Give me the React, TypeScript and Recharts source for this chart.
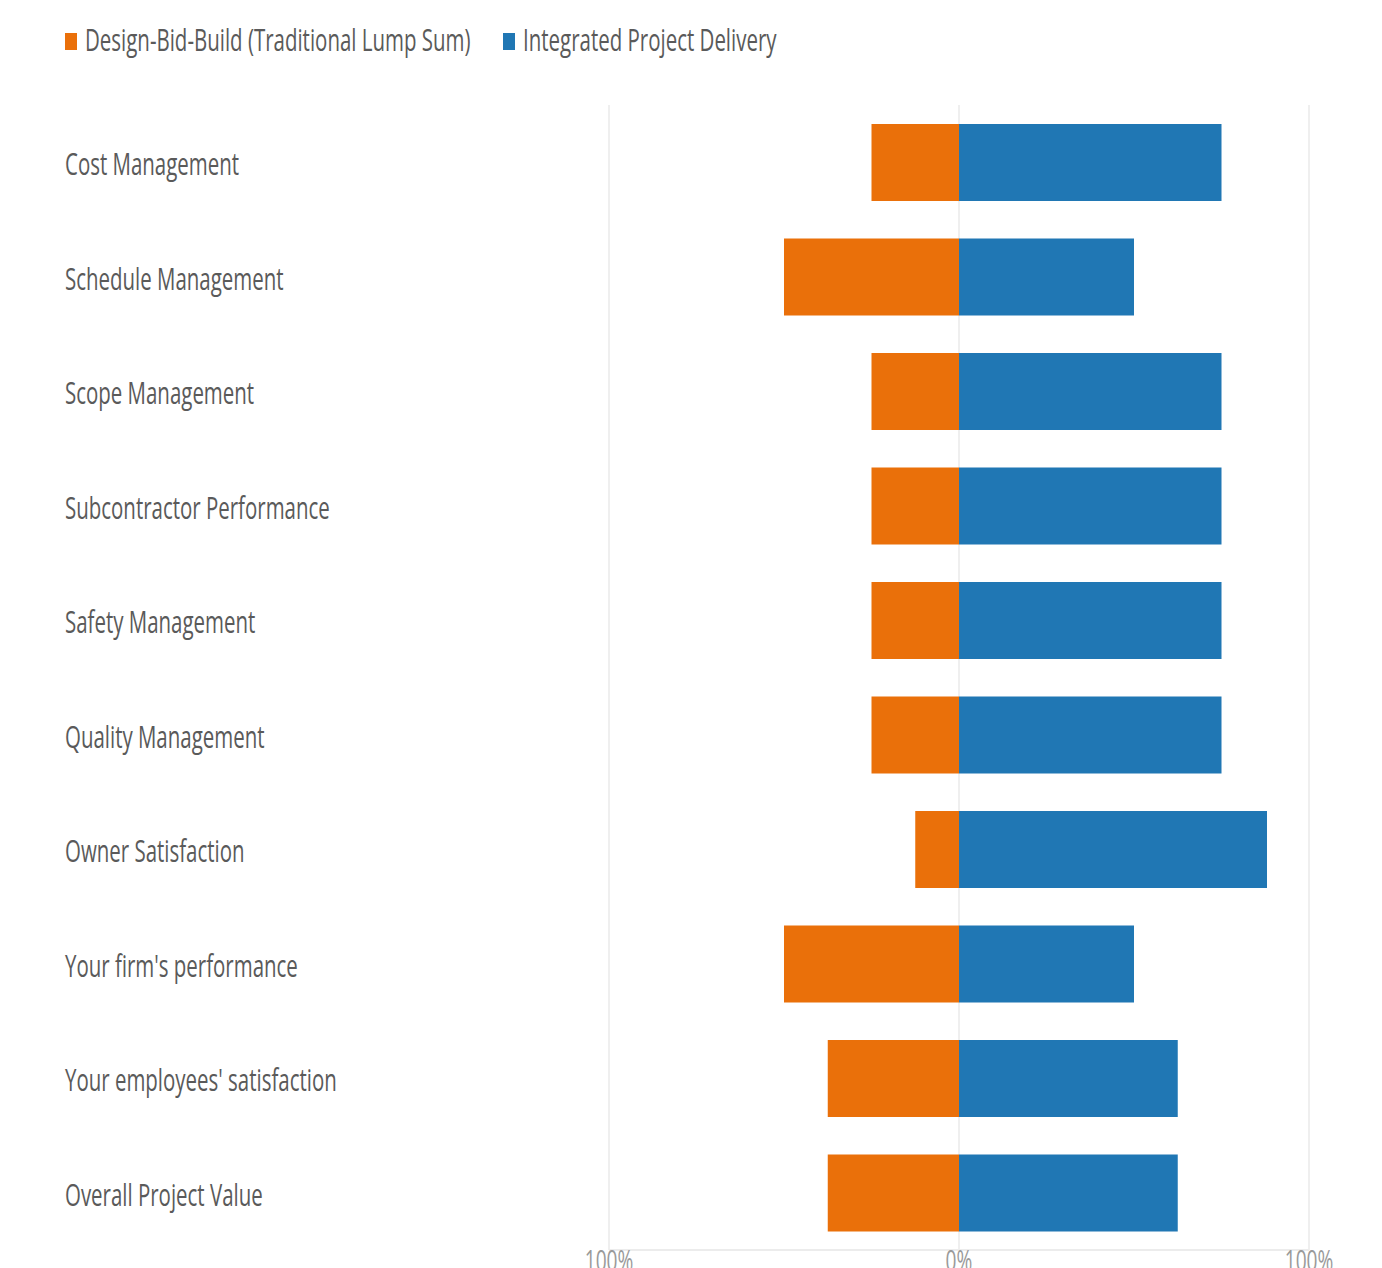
import React from 'react';
import { BarChart, Bar, XAxis, YAxis, CartesianGrid, Legend } from 'recharts';

const categories = [
  'Cost Management',
  'Schedule Management',
  'Scope Management',
  'Subcontractor Performance',
  'Safety Management',
  'Quality Management',
  'Owner Satisfaction',
  "Your firm's performance",
  "Your employees' satisfaction",
  'Overall Project Value',
];
const designBidBuild = [25, 50, 25, 25, 25, 25, 12.5, 50, 37.5, 37.5];
const integratedDelivery = [75, 50, 75, 75, 75, 75, 88, 50, 62.5, 62.5];
const xTicks = [-100, 0, 100];

const seriesNames = {
  dbb: 'Design-Bid-Build (Traditional Lump Sum)',
  ipd: 'Integrated Project Delivery',
};
const colors = { dbb: '#EA700A', ipd: '#2077B4' };

const data = categories.map((c, i) => ({
  category: c,
  dbb: -designBidBuild[i],
  ipd: integratedDelivery[i],
}));

const FONT = '"Open Sans", sans-serif';
const SX = 0.66;

const YTick = (props: any) => {
  const { y, payload } = props;
  return (
    <text
      transform={`translate(65, ${y + 13}) scale(${SX}, 1)`}
      fontFamily={FONT}
      fontSize={31}
      fill="#5a5a5a"
    >
      {payload.value}
    </text>
  );
};

const XTick = (props: any) => {
  const { x, y, payload } = props;
  return (
    <text
      transform={`translate(${x}, ${y + 21}) scale(${SX}, 1)`}
      textAnchor="middle"
      fontFamily={FONT}
      fontSize={29}
      fill="#9a9a9a"
    >
      {Math.abs(payload.value)}%
    </text>
  );
};

const LegendContent = (props: any) => {
  const { payload } = props;
  const lefts = [65, 503];
  return (
    <div style={{ position: 'relative', width: 900, height: 60 }}>
      {(payload || []).map((p: any, i: number) => (
        <div key={p.value} style={{ position: 'absolute', left: lefts[i], top: 0, height: 60 }}>
          <div
            style={{ position: 'absolute', left: 0, top: 33, width: 12, height: 17, background: p.color }}
          />
          <div
            style={{
              position: 'absolute',
              left: 20,
              top: 19,
              whiteSpace: 'nowrap',
              fontFamily: FONT,
              fontSize: 31,
              lineHeight: '40px',
              color: '#5a5a5a',
              transform: `scaleX(${SX})`,
              transformOrigin: 'left top',
            }}
          >
            {p.value}
          </div>
        </div>
      ))}
    </div>
  );
};

export default function App() {
  return (
    <div style={{ position: 'absolute', left: 0, top: 0, width: 1382, height: 1268, background: '#fff', overflow: 'hidden' }}>
      <BarChart
        width={1382}
        height={1268}
        data={data}
        layout="vertical"
        stackOffset="sign"
        margin={{ top: 105, right: 73, bottom: 0, left: 0 }}
      >
        <CartesianGrid horizontal={false} vertical stroke="#efefef" strokeWidth={2} />
        <XAxis
          type="number"
          domain={[-100, 100]}
          ticks={xTicks}
          height={18}
          tickSize={0}
          tickMargin={0}
          tickLine={false}
          axisLine={{ stroke: '#ececec', strokeWidth: 2 }}
          tick={<XTick />}
          interval={0}
        />
        <YAxis
          type="category"
          dataKey="category"
          width={609}
          axisLine={false}
          tickLine={false}
          tick={<YTick />}
          interval={0}
        />
        <Legend
          verticalAlign="middle"
          align="center"
          layout="horizontal"
          wrapperStyle={{ top: 0, left: 0, width: 900, height: 60 }}
          content={<LegendContent />}
        />
        <Bar dataKey="dbb" name={seriesNames.dbb} stackId="a" fill={colors.dbb} barSize={77} isAnimationActive={false} />
        <Bar dataKey="ipd" name={seriesNames.ipd} stackId="a" fill={colors.ipd} barSize={77} isAnimationActive={false} />
      </BarChart>
    </div>
  );
}
